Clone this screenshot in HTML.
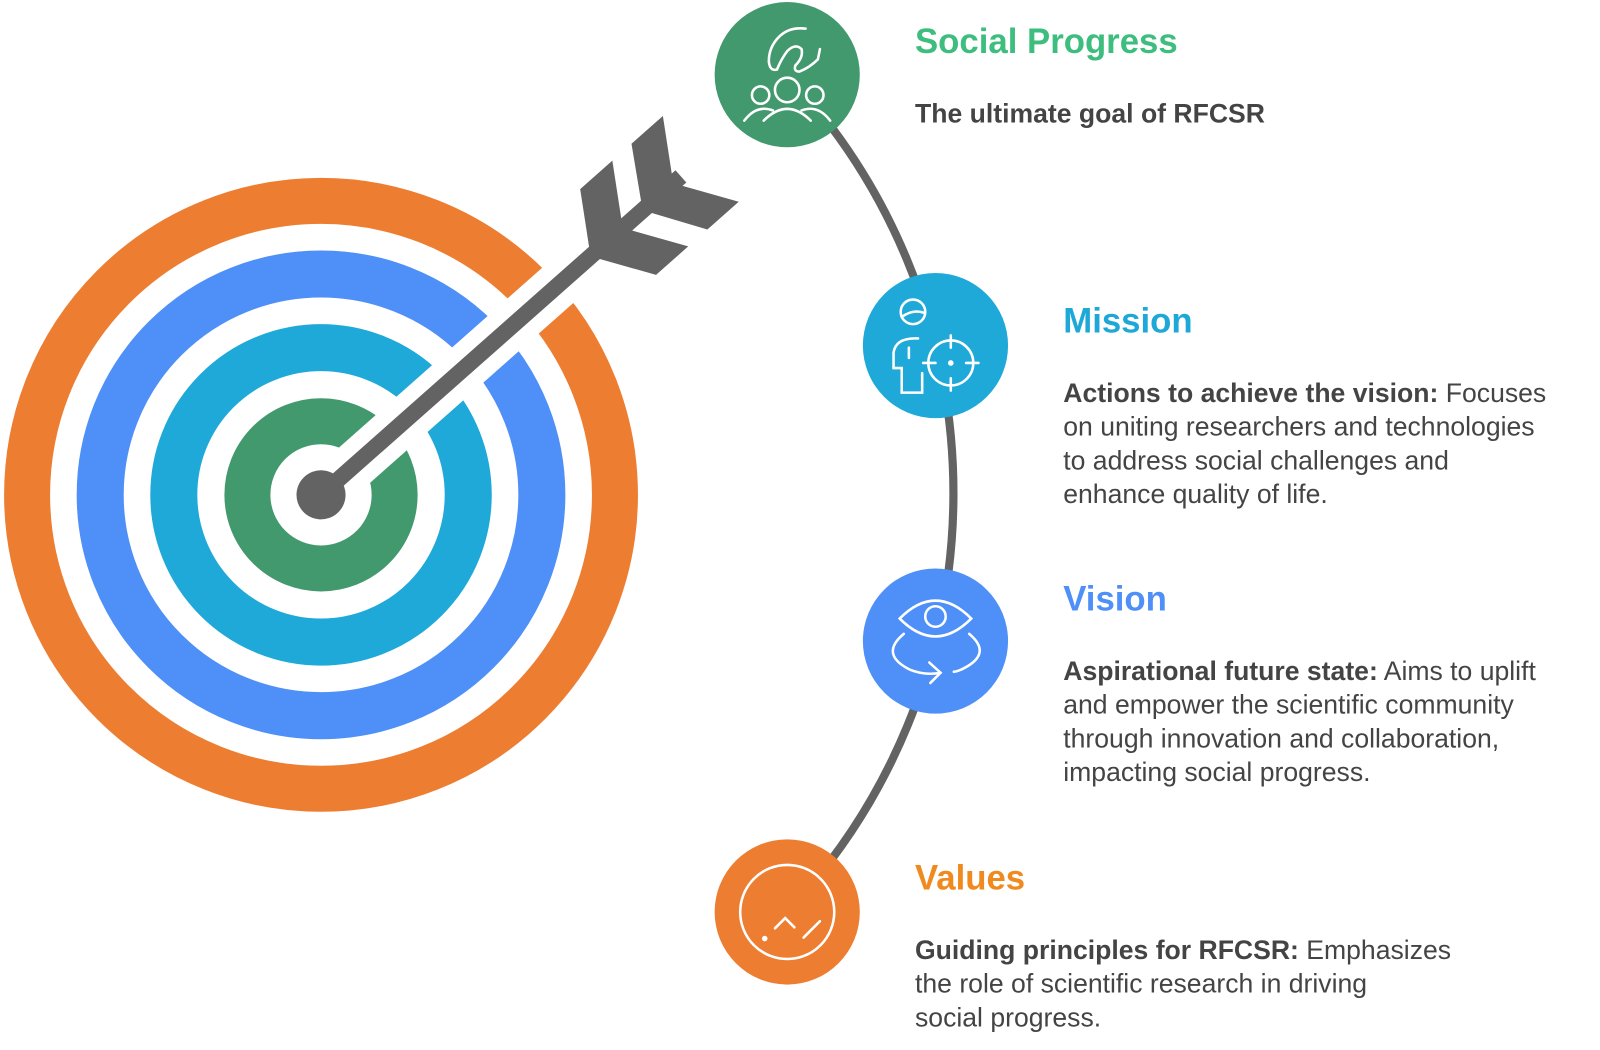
<!DOCTYPE html>
<html><head><meta charset="utf-8"><style>
html,body{margin:0;padding:0;background:#fff;}
svg{display:block;}
text{font-family:"Liberation Sans",sans-serif;}
</style></head><body>
<svg width="1600" height="1050" viewBox="0 0 1565 1027" preserveAspectRatio="none" xmlns="http://www.w3.org/2000/svg">
<!-- target -->
<g fill="none">
<circle cx="314" cy="484" r="287.5" stroke="#ed7d31" stroke-width="45"/>
<circle cx="314" cy="484" r="216" stroke="#4e8ff8" stroke-width="46"/>
<circle cx="314" cy="484" r="144" stroke="#1ea9d8" stroke-width="46"/>
<circle cx="314" cy="484" r="72" stroke="#43996e" stroke-width="45"/>
</g>
<g transform="translate(314 484) rotate(-41.5)">
<line x1="0" y1="0" x2="330" y2="0" stroke="#fff" stroke-width="46"/>
<line x1="0" y1="0" x2="470" y2="0" stroke="#636363" stroke-width="16"/>
<circle cx="0" cy="0" r="24" fill="#636363"/>
<polygon points="352,0 388,-56 430,-56 394,0 430,56 388,56" fill="#636363"/>
<polygon points="420,0 455,-56 496,-56 460,0 496,56 455,56" fill="#636363"/>
</g>
<!-- arc -->
<path d="M770 73 A597 597 0 0 1 770 892" fill="none" stroke="#636363" stroke-width="8"/>
<!-- nodes -->
<circle cx="770" cy="73" r="71" fill="#43996e"/>
<circle cx="915" cy="338" r="71" fill="#1ea9d8"/>
<circle cx="915" cy="627" r="71" fill="#4e8ff8"/>
<circle cx="770" cy="892" r="71" fill="#ed7d31"/>
<g fill="none" stroke="#fff" stroke-width="2.5" stroke-linecap="round">
<!-- social -->
<path d="M788 28 Q772 26 762 36 Q752 46 752 60 Q753 70 760 68 Q764 58 770 50 Q778 42 784 48 Q786 56 778 64 Q776 70 782 70 Q792 66 800 58 L802 48"/>
<circle cx="770" cy="88" r="12"/><circle cx="744" cy="93" r="8.5"/><circle cx="797" cy="93" r="8.5"/>
<path d="M747 118 Q770 95 793 118"/><path d="M728 118 Q740 102 756 108"/><path d="M812 118 Q800 102 784 108"/>
<!-- mission -->
<circle cx="893" cy="305" r="12"/><path d="M882 310 Q893 302 904 306"/>
<path d="M898 331 Q876 330 874 345 L874 360 L882 360 L882 384 L902 384 L902 365"/><line x1="889" y1="340" x2="889" y2="350"/>
<circle cx="930" cy="355" r="22"/><line x1="930" y1="328" x2="930" y2="340"/><line x1="930" y1="370" x2="930" y2="382"/><line x1="903" y1="355" x2="915" y2="355"/><line x1="945" y1="355" x2="957" y2="355"/>
<circle cx="930" cy="355" r="1.5" fill="#fff"/>
<!-- vision -->
<path d="M880 605 Q915 570 950 605 Q915 640 880 605 Z"/><circle cx="915" cy="603" r="10"/>
<path d="M884 620 Q860 640 890 655 Q905 661 920 658"/><path d="M909 648 L920 658 L910 668"/><path d="M948 620 Q972 640 940 655 Q935 657 933 657"/>
<!-- values -->
<circle cx="770" cy="892" r="46"/>
<circle cx="748" cy="918" r="1.5" fill="#fff"/><path d="M758 908 L768 898 L777 907"/><path d="M786 917 L802 901"/>
</g>
<!-- text -->
<text x="895" y="52" font-size="34" font-weight="bold" fill="#3dbd7e">Social Progress</text>
<text x="895" y="120" font-size="26" font-weight="bold" fill="#444">The ultimate goal of RFCSR</text>
<text x="1040" y="325" font-size="34" font-weight="bold" fill="#1ea8d8">Mission</text>
<g font-size="26" fill="#444">
<text x="1040" y="393"><tspan font-weight="bold">Actions to achieve the vision:</tspan> Focuses</text>
<text x="1040" y="426">on uniting researchers and technologies</text>
<text x="1040" y="459">to address social challenges and</text>
<text x="1040" y="492">enhance quality of life.</text>
</g>
<text x="1040" y="597" font-size="34" font-weight="bold" fill="#4e8ff8">Vision</text>
<g font-size="26" fill="#444">
<text x="1040" y="665"><tspan font-weight="bold">Aspirational future state:</tspan> Aims to uplift</text>
<text x="1040" y="698">and empower the scientific community</text>
<text x="1040" y="731">through innovation and collaboration,</text>
<text x="1040" y="764">impacting social progress.</text>
</g>
<text x="895" y="870" font-size="34" font-weight="bold" fill="#f08a1e">Values</text>
<g font-size="26" fill="#444">
<text x="895" y="938"><tspan font-weight="bold">Guiding principles for RFCSR:</tspan> Emphasizes</text>
<text x="895" y="971">the role of scientific research in driving</text>
<text x="895" y="1004">social progress.</text>
</g>
</svg>
</body></html>
